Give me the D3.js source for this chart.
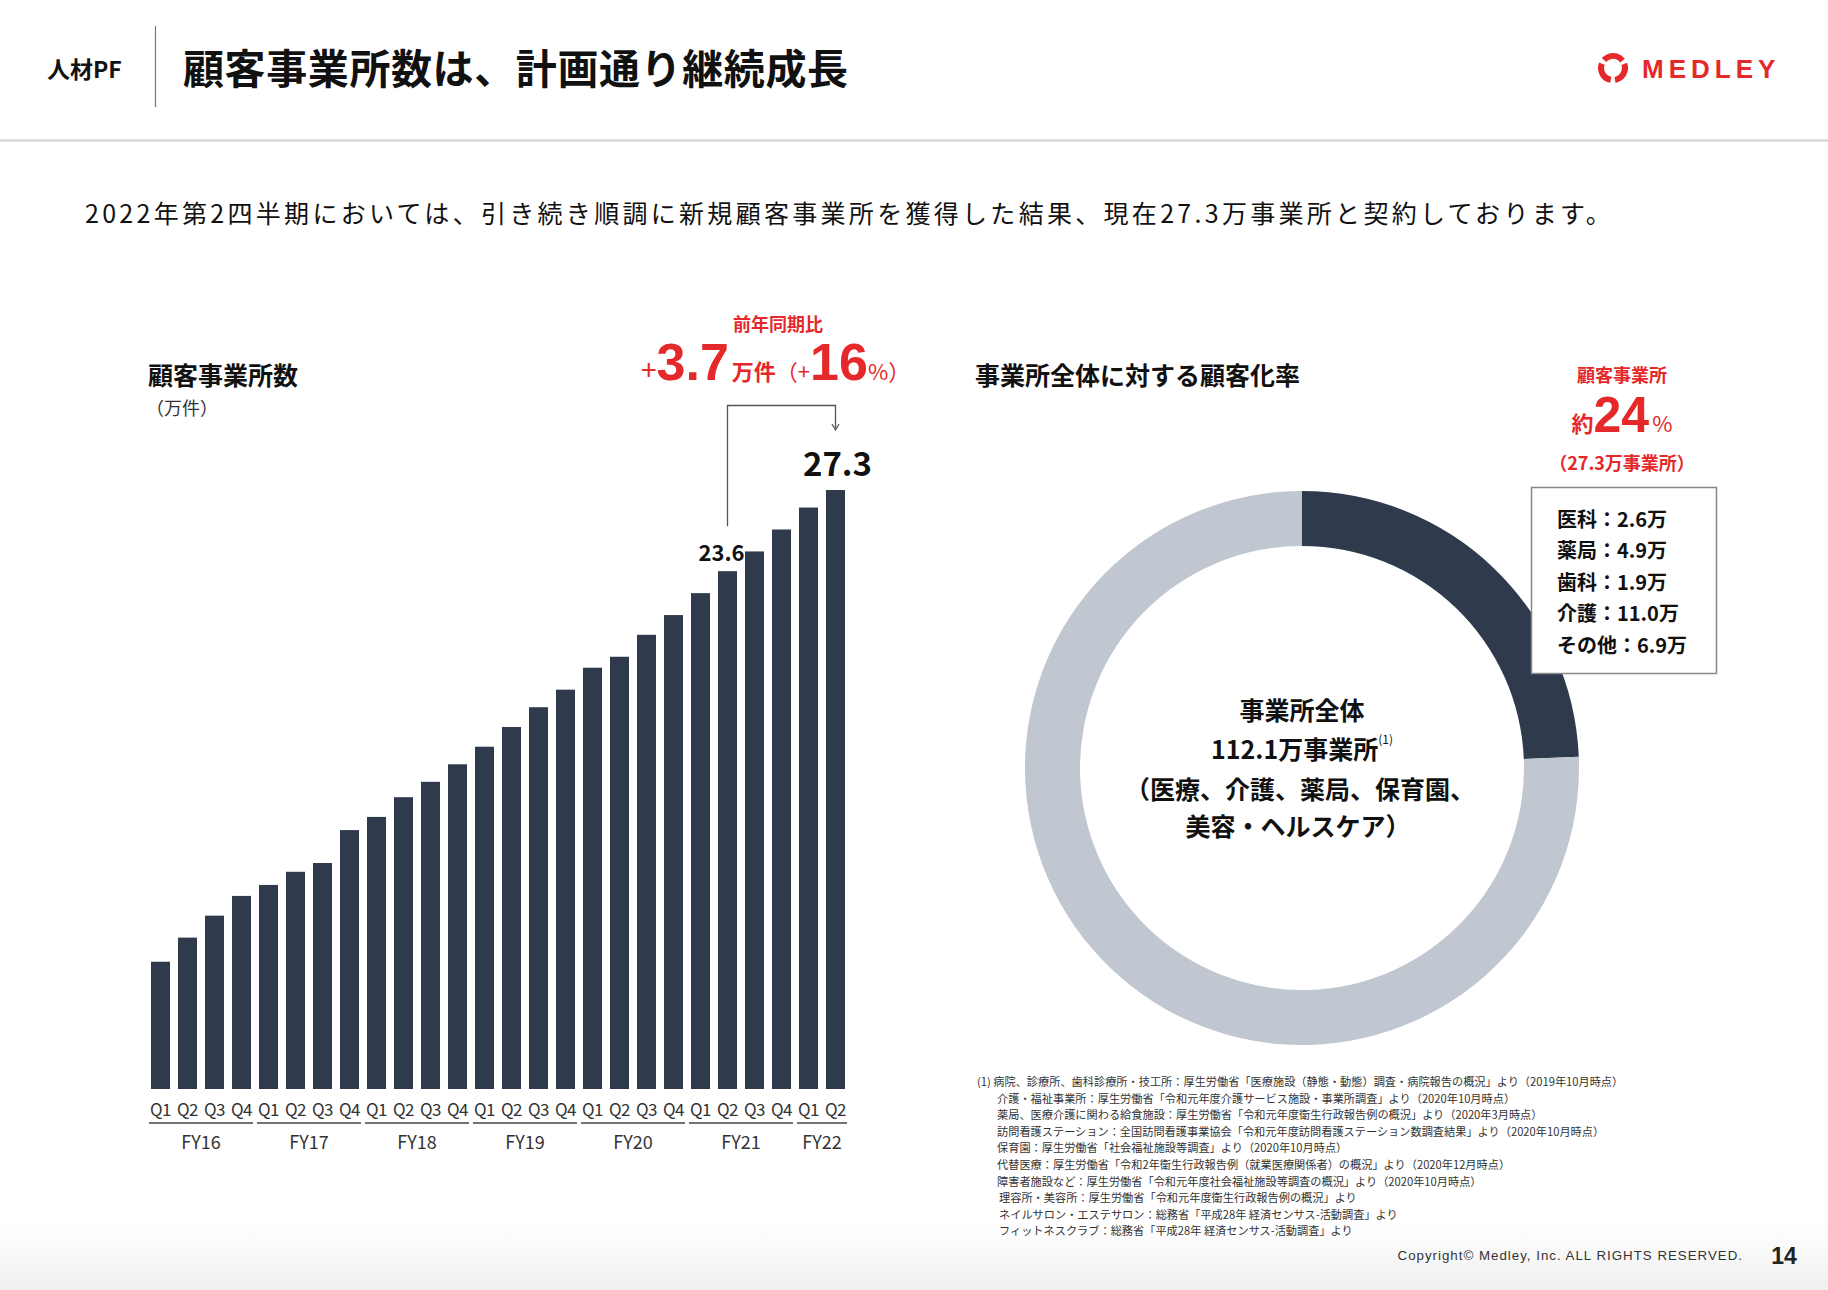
<!DOCTYPE html>
<html><head><meta charset="utf-8">
<script src="https://cdn.jsdelivr.net/npm/d3@7"></script>
<style>
html,body{margin:0;padding:0;background:#fff;}
svg{display:block;font-family:"Noto Sans CJK JP","Noto Sans",sans-serif;}
</style></head>
<body>
<script>
// ---- data ----
const quarters = ["Q1","Q2","Q3","Q4","Q1","Q2","Q3","Q4","Q1","Q2","Q3","Q4","Q1","Q2","Q3","Q4","Q1","Q2","Q3","Q4","Q1","Q2","Q3","Q4","Q1","Q2"];
const fiscalYears = ["FY16","FY17","FY18","FY19","FY20","FY21","FY22"];
const fyQuarterCounts = [4,4,4,4,4,4,2];
const clientOffices = [5.8,6.9,7.9,8.8,9.3,9.9,10.3,11.8,12.4,13.3,14.0,14.8,15.6,16.5,17.4,18.2,19.2,19.7,20.7,21.6,22.6,23.6,24.5,25.5,26.5,27.3];
const totalOffices = 112.1;
const donutLabels = ["顧客事業所","その他"];
const donutValues = [27.3, 112.1 - 27.3];
const breakdownLabels = ["医科","薬局","歯科","介護","その他"];
const breakdownValues = ["2.6","4.9","1.9","11.0","6.9"];
const centerLines = ["事業所全体","112.1万事業所","（医療、介護、薬局、保育園、","美容・ヘルスケア）"];
const footnotes = [
 "(1)  病院、診療所、歯科診療所・技工所：厚生労働省「医療施設（静態・動態）調査・病院報告の概況」より（2019年10月時点）",
 "介護・福祉事業所：厚生労働省「令和元年度介護サービス施設・事業所調査」より（2020年10月時点）",
 "薬局、医療介護に関わる給食施設：厚生労働省「令和元年度衛生行政報告例の概況」より（2020年3月時点）",
 "訪問看護ステーション：全国訪問看護事業協会「令和元年度訪問看護ステーション数調査結果」より（2020年10月時点）",
 "保育園：厚生労働省「社会福祉施設等調査」より（2020年10月時点）",
 "代替医療：厚生労働省「令和2年衛生行政報告例（就業医療関係者）の概況」より（2020年12月時点）",
 "障害者施設など：厚生労働省「令和元年度社会福祉施設等調査の概況」より（2020年10月時点）",
 "理容所・美容所：厚生労働省「令和元年度衛生行政報告例の概況」より",
 "ネイルサロン・エステサロン：総務省「平成28年 経済センサス-活動調査」より",
 "フィットネスクラブ：総務省「平成28年 経済センサス-活動調査」より"
];

// ---- styles ----
const RED = "#e5282a", NAVY = "#2f3b4c", LIGHT = "#c1c7d0", TXT = "#111";
const W = 1828, H = 1290;
const svg = d3.select("body").append("svg").attr("width", W).attr("height", H);

// background bottom gradient
const defs = svg.append("defs");
const g1 = defs.append("linearGradient").attr("id","btm").attr("x1",0).attr("x2",0).attr("y1",0).attr("y2",1);
g1.append("stop").attr("offset","0%").attr("stop-color","#ffffff");
g1.append("stop").attr("offset","100%").attr("stop-color","#efefef");
svg.append("rect").attr("x",0).attr("y",1225).attr("width",W).attr("height",65).attr("fill","url(#btm)");

// ---- header ----
svg.append("text").attr("x",47).attr("y",68).attr("dominant-baseline","central")
  .attr("font-size",23).attr("font-weight",700).attr("fill",TXT).text("人材PF");
svg.append("line").attr("x1",155.5).attr("x2",155.5).attr("y1",26).attr("y2",107).attr("stroke","#777").attr("stroke-width",1.2);
svg.append("text").attr("x",183).attr("y",66).attr("dominant-baseline","central")
  .attr("font-size",41).attr("letter-spacing",0.6).attr("font-weight",700).attr("fill",TXT).text("顧客事業所数は、計画通り継続成長");
svg.append("line").attr("x1",0).attr("x2",W).attr("y1",140.5).attr("y2",140.5).attr("stroke","#d0d0d0").attr("stroke-width",2);

// logo
const logo = svg.append("g").attr("transform","translate(1613,68)");
logo.append("circle").attr("r",12).attr("fill","none").attr("stroke",RED).attr("stroke-width",6)
  .attr("stroke-dasharray","21 4.1").attr("transform","rotate(-20)");
svg.append("text").attr("x",1642).attr("y",69).attr("dominant-baseline","central")
  .attr("font-family","Liberation Sans, Arial, sans-serif")
  .attr("font-size",26).attr("font-weight",700).attr("letter-spacing",5).attr("fill",RED).text("MEDLEY");

// subtitle
svg.append("text").attr("x",85).attr("y",212).attr("dominant-baseline","central")
  .attr("font-size",25).attr("letter-spacing",3.3).attr("fill",TXT)
  .text("2022年第2四半期においては、引き続き順調に新規顧客事業所を獲得した結果、現在27.3万事業所と契約しております。");

// ---- bar chart ----
const x = d3.scaleBand().domain(d3.range(clientOffices.length)).range([147, 849]).paddingInner(0.296).paddingOuter(0.148);
const y = d3.scaleLinear().domain([0, 27.3]).range([1089, 490]);

svg.append("text").attr("x",148).attr("y",374).attr("dominant-baseline","central")
  .attr("font-size",25).attr("font-weight",700).attr("fill",TXT).text("顧客事業所数");
svg.append("text").attr("x",146).attr("y",407).attr("dominant-baseline","central")
  .attr("font-size",18).attr("fill","#333").text("（万件）");

svg.append("g").selectAll("rect").data(clientOffices).join("rect")
  .attr("x",(d,i)=>x(i)).attr("width",x.bandwidth())
  .attr("y",d=>y(d)).attr("height",d=>y(0)-y(d)).attr("fill",NAVY);

// quarter axis
const qAxis = d3.axisBottom(x).tickSize(0).tickPadding(0).tickFormat(i=>quarters[i]);
const qg = svg.append("g").attr("transform","translate(0,1098)").call(qAxis);
qg.select(".domain").remove();
qg.selectAll("text").attr("font-size",17).attr("fill","#333").attr("font-family","Noto Sans CJK JP, sans-serif")
  .attr("letter-spacing",-0.5).attr("dy",0).attr("y",10).attr("dominant-baseline","central");

// fiscal year groups
let start = 0;
fiscalYears.forEach((fy, k) => {
  const n = fyQuarterCounts[k];
  const x0 = x(start) - 2, x1 = x(start + n - 1) + x.bandwidth() + 2;
  svg.append("line").attr("x1",x0).attr("x2",x1).attr("y1",1123).attr("y2",1123).attr("stroke","#444").attr("stroke-width",1.5);
  svg.append("text").attr("x",(x0+x1)/2).attr("y",1141).attr("text-anchor","middle").attr("dominant-baseline","central")
    .attr("font-size",18).attr("fill","#333").text(fy);
  start += n;
});

// value labels
const iPrev = 21, iLast = 25;
svg.append("text").attr("x",x(iPrev)+x.bandwidth()/2-6).attr("y",y(clientOffices[iPrev])-20).attr("text-anchor","middle")
  .attr("dominant-baseline","central").attr("font-size",22).attr("font-weight",700).attr("fill",TXT).text(clientOffices[iPrev].toFixed(1));
svg.append("text").attr("x",x(iLast)+x.bandwidth()/2+2).attr("y",y(clientOffices[iLast])-28).attr("text-anchor","middle")
  .attr("dominant-baseline","central").attr("font-size",33).attr("font-weight",700).attr("fill",TXT).text(clientOffices[iLast].toFixed(1));

// bracket
const bx0 = x(iPrev)+x.bandwidth()/2, bx1 = x(iLast)+x.bandwidth()/2;
svg.append("path").attr("d",`M${bx0},${y(clientOffices[iPrev])-45}V405.5H${bx1}V428`)
  .attr("fill","none").attr("stroke","#555").attr("stroke-width",1.3);
svg.append("path").attr("d",`M${bx1-3.5},${424}L${bx1},${430}L${bx1+3.5},${424}`).attr("fill","none").attr("stroke","#555").attr("stroke-width",1.3);

// growth annotation
const diff = clientOffices[iLast] - clientOffices[iPrev];
const pct = Math.round(diff / clientOffices[iPrev] * 100);
svg.append("text").attr("x",778).attr("y",323).attr("text-anchor","middle").attr("dominant-baseline","central")
  .attr("font-size",18).attr("font-weight",700).attr("fill",RED).text("前年同期比");
const ann = svg.append("text").attr("x",641).attr("y",380).attr("fill",RED).attr("font-weight",700);
ann.append("tspan").attr("font-size",28).attr("font-weight",400).text("+");
ann.append("tspan").attr("font-size",52).attr("font-family","Liberation Sans, Arial, sans-serif").text(diff.toFixed(1));
ann.append("tspan").attr("font-size",22).attr("dx",3).text("万件");
ann.append("tspan").attr("font-size",22).attr("font-weight",400).text("（+");
ann.append("tspan").attr("font-size",52).attr("font-family","Liberation Sans, Arial, sans-serif").text(pct);
ann.append("tspan").attr("font-size",22).attr("font-weight",400).text("%）");

// ---- donut ----
const cx = 1302, cy = 768, rOuter = 277, rInner = 222;
svg.append("text").attr("x",975).attr("y",374).attr("dominant-baseline","central")
  .attr("font-size",25).attr("font-weight",700).attr("fill",TXT).text("事業所全体に対する顧客化率");

const pie = d3.pie().sort(null).value(d=>d);
const arc = d3.arc().innerRadius(rInner).outerRadius(rOuter);
svg.append("g").attr("transform",`translate(${cx},${cy})`).selectAll("path")
  .data(pie(donutValues)).join("path").attr("d",arc).attr("fill",(d,i)=>i===0?NAVY:LIGHT);

const cys = [709, 748, 788, 825];
centerLines.forEach((t,i)=>{
  const tx = svg.append("text").attr("x",cx+(i===2?-2:(i===3?-4:0))).attr("y",cys[i]).attr("text-anchor","middle")
    .attr("dominant-baseline","central").attr("font-size",25).attr("font-weight",700).attr("fill",TXT).text(t);
  if(i===1) tx.append("tspan").attr("font-size",12).attr("font-weight",400).attr("dy",-10).text("(1)");
});

// ratio
const ratio = Math.round(donutValues[0]/totalOffices*100);
svg.append("text").attr("x",1622).attr("y",374).attr("text-anchor","middle").attr("dominant-baseline","central")
  .attr("font-size",18).attr("font-weight",700).attr("fill",RED).text(donutLabels[0]);
const rt = svg.append("text").attr("x",1622).attr("y",432).attr("text-anchor","middle").attr("fill",RED).attr("font-weight",700);
rt.append("tspan").attr("font-size",22).text("約");
rt.append("tspan").attr("font-size",50).attr("font-family","Liberation Sans, Arial, sans-serif").text(ratio);
rt.append("tspan").attr("font-size",22).attr("font-weight",400).attr("dx",3).text("%");
svg.append("text").attr("x",1622).attr("y",462).attr("text-anchor","middle").attr("dominant-baseline","central")
  .attr("font-size",18).attr("font-weight",700).attr("fill",RED).text(`（${donutValues[0]}万事業所）`);

// breakdown box
svg.append("rect").attr("x",1531.5).attr("y",487.5).attr("width",185).attr("height",186)
  .attr("fill","#fff").attr("stroke","#888").attr("stroke-width",1.5);
breakdownLabels.forEach((l,i)=>{
  svg.append("text").attr("x",1557).attr("y",518+i*31.5).attr("dominant-baseline","central")
    .attr("font-size",20).attr("font-weight",700).attr("fill",TXT).text(`${l}：${breakdownValues[i]}万`);
});

// footnotes
footnotes.forEach((f,i)=>{
  svg.append("text").attr("x",i===0?977:(i>=7?999:997)).attr("y",1081+i*16.6).attr("dominant-baseline","central")
    .attr("font-size",11.2).attr("fill","#333").text(f);
});

// copyright
svg.append("text").attr("x",1743).attr("y",1255).attr("text-anchor","end").attr("dominant-baseline","central")
  .attr("font-family","Liberation Sans, Arial, sans-serif").attr("font-size",13.3).attr("letter-spacing",1).attr("fill","#333")
  .text("Copyright© Medley, Inc. ALL RIGHTS RESERVED.");
svg.append("text").attr("x",1784).attr("y",1256).attr("text-anchor","middle").attr("dominant-baseline","central")
  .attr("font-family","Liberation Sans, Arial, sans-serif").attr("font-size",23).attr("font-weight",700).attr("fill","#222").text("14");
</script>
</body></html>
